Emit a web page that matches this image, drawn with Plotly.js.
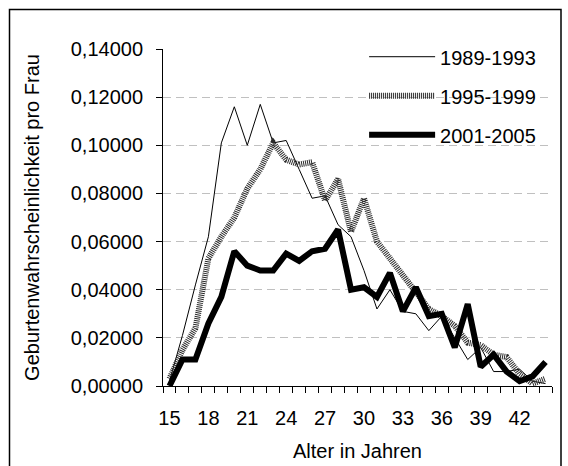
<!DOCTYPE html>
<html>
<head>
<meta charset="utf-8">
<script src="https://cdn.plot.ly/plotly-3.0.1.min.js"></script>
<style>
html, body { margin: 0; padding: 0; background: #fff; }
#chart { width: 568px; height: 466px; }
</style>
</head>
<body>
<div id="chart"></div>
<script>
// Age in years (x categories)
const ages = [15,16,17,18,19,20,21,22,23,24,25,26,27,28,29,30,31,32,33,34,35,36,37,38,39,40,41,42,43,44];
// Series names
const seriesNames = ["1989-1993", "1995-1999", "2001-2005"];
// Birth probability per woman
const s1989 = [0.002,0.021,0.042,0.062,0.101,0.116,0.100,0.117,0.101,0.102,0.090,0.078,0.079,0.067,0.062,0.048,0.032,0.040,0.031,0.030,0.023,0.029,0.020,0.011,0.016,0.006,0.006,0.007,0.002,0.001];
const s1995 = [0.003,0.015,0.024,0.053,0.062,0.070,0.082,0.090,0.101,0.094,0.092,0.093,0.077,0.086,0.064,0.078,0.060,0.053,0.045,0.039,0.032,0.029,0.025,0.018,0.017,0.013,0.012,0.005,0.001,0.003];
const s2001 = [0.000,0.011,0.011,0.026,0.037,0.056,0.050,0.048,0.048,0.055,0.052,0.056,0.057,0.065,0.040,0.041,0.037,0.047,0.031,0.041,0.029,0.030,0.016,0.034,0.008,0.013,0.006,0.002,0.004,0.010];
// X tick labels (every third age)
const xTickVals = [15,18,21,24,27,30,33,36,39,42];
const xTickText = ["15","18","21","24","27","30","33","36","39","42"];
// Y ticks
const yTickVals = [0,0.02,0.04,0.06,0.08,0.10,0.12,0.14];

const FONT = "Liberation Sans, Arial, sans-serif";

const traces = [
  { x: ages, y: s1989, name: seriesNames[0], legendgroup: "a", mode: "lines",
    line: { color: "#000", width: 1 } },
  { x: ages, y: s1995, name: seriesNames[1], legendgroup: "b", mode: "lines",
    line: { color: "#2a2a2a", width: 6, dash: "1px,1px" } },
  { x: ages, y: s2001, name: seriesNames[2], legendgroup: "c", mode: "lines",
    line: { color: "#000", width: 6 } }
];

const layout = {
  width: 568, height: 466,
  margin: { l: 163, r: 16, t: 49, b: 80 },
  paper_bgcolor: "#fff", plot_bgcolor: "#fff",
  separators: ",.",
  font: { family: FONT, size: 20, color: "#000" },
  showlegend: true,
  legend: {
    x: 0.517, y: 1.035, xanchor: "left", yanchor: "top",
    bgcolor: "rgba(0,0,0,0)", borderwidth: 0,
    font: { family: FONT, size: 20, color: "#000" },
    itemwidth: 66, tracegroupgap: 10
  },
  xaxis: {
    range: [14.5, 44.5], tickmode: "array", tickvals: xTickVals, ticktext: xTickText,
    ticks: "", showgrid: false, zeroline: false,
    showline: true, linecolor: "#000", linewidth: 1,
    tickfont: { family: FONT, size: 20, color: "#000" },
    ticklabelstandoff: 14,
    minor: { tick0: 14.5, dtick: 1, ticks: "outside", ticklen: 6, tickcolor: "#000", tickwidth: 1, showgrid: false },
    title: { text: "Alter in Jahren", font: { family: FONT, size: 20, color: "#000" }, standoff: 15 }
  },
  yaxis: {
    range: [0, 0.14], tickmode: "array", tickvals: yTickVals, tickformat: ".5f",
    ticks: "outside", ticklen: 6, tickcolor: "#000", tickwidth: 1,
    showline: true, linecolor: "#000", linewidth: 1, zeroline: false,
    showgrid: true, gridcolor: "#c0c0c0", griddash: "8px,5px", gridwidth: 1,
    tickfont: { family: FONT, size: 20, color: "#000" },
    ticklabelstandoff: 9,
    title: { text: "Geburtenwahrscheinlichkeit pro Frau", font: { family: FONT, size: 20, color: "#000" }, standoff: 25 }
  },
  shapes: [
    { type: "rect", xref: "paper", yref: "paper",
      x0: (9.5 - 163) / 389, x1: (561 - 163) / 389,
      y0: -0.3, y1: (386 - 9.5) / 337,
      line: { color: "#000", width: 1.5 }, fillcolor: "rgba(0,0,0,0)", layer: "below" },
    { type: "rect", xref: "paper", yref: "paper",
      x0: (334 - 163) / 389, x1: 1,
      y0: (386 - 162) / 337, y1: 1.01,
      line: { width: 0 }, fillcolor: "#fff", layer: "between" }
  ]
};

Plotly.newPlot("chart", traces, layout, { displayModeBar: false, staticPlot: true });
</script>
</body>
</html>
